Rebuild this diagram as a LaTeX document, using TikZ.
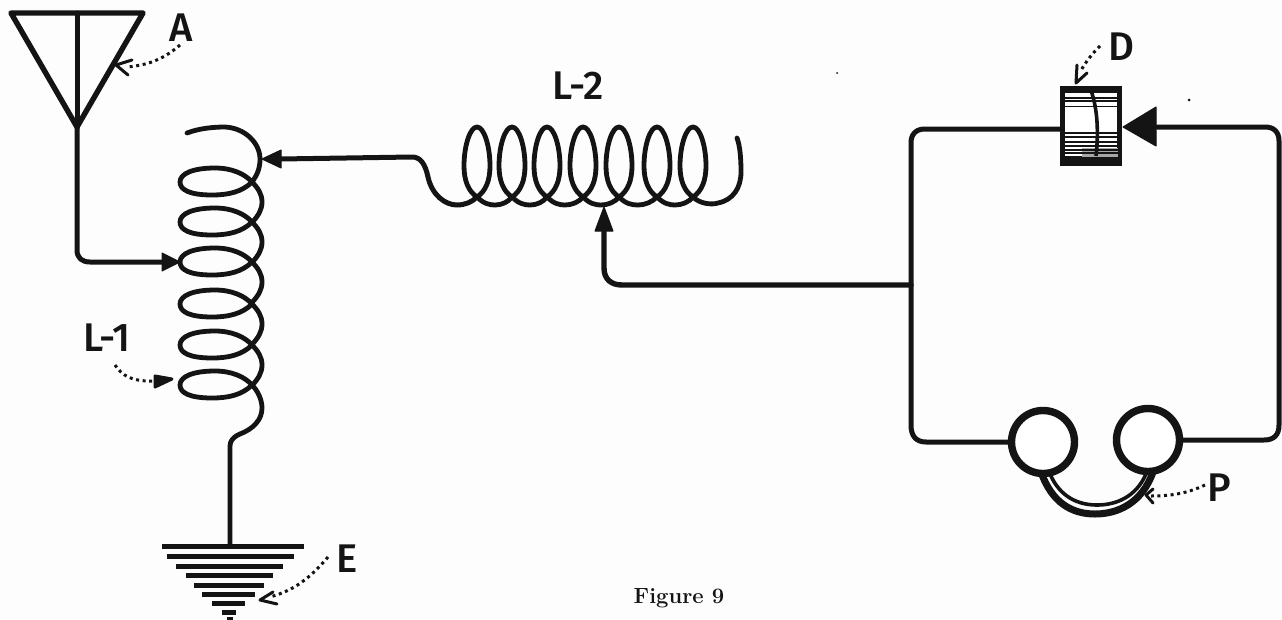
\documentclass[tikz,border=0pt]{standalone}
\usepackage{fontspec}
\newfontfamily\hand{Fira Sans}[UprightFont=* Medium]
\usetikzlibrary{arrows.meta,calc}
\definecolor{inkc}{HTML}{141414}
\definecolor{paper}{HTML}{FDFDFD}
\tikzset{
  wire/.style={line width=5pt,line cap=round,line join=round,draw=inkc},
  coilw/.style={line width=4.8pt,line cap=round,line join=round,draw=inkc},
  gnd/.style={line width=5pt,draw=inkc},
  ptr/.style={line width=3pt,draw=inkc,dash pattern=on 3pt off 3.6pt,line cap=butt},
  ptrhead/.style={line width=3pt,draw=inkc,line cap=round,line join=round},
  tip/.style={fill=inkc,draw=inkc,line width=1pt,line join=round},
  lab/.style={font=\hand\fontsize{40}{40}\selectfont,text=inkc,inner sep=0pt,anchor=center},
}
\newcommand{\lonecoil}[1]{
  (252,#1) .. controls (242,#1+10) and (228,#1+13) .. (212,#1+13)
  .. controls (190,#1+13) and (180,#1+8) .. (180,#1)
  .. controls (180,#1-8) and (192,#1-14) .. (215,#1-14)
  .. controls (232,#1-14) and (245,#1-8) .. (252,#1)
}
\newcommand{\ltwoloop}[1]{
  .. controls (#1+9,191) and (#1+13,180) .. (#1+13,166)
  .. controls (#1+13,146) and (#1+7,127) .. (#1,127)
  .. controls (#1-7,127) and (#1-13,146) .. (#1-13,166)
  .. controls (#1-13,180) and (#1-9,191) .. (#1,197)
}
\begin{document}
\begin{tikzpicture}[x=1pt,y=-1pt]
\useasboundingbox (0,0) rectangle (1282,619);
\fill[paper] (0,0) rectangle (1282,619);
% named points
\coordinate (antL) at (11,13);
\coordinate (antR) at (143,13);
\coordinate (antM) at (77,13);
\coordinate (apex) at (77,127);
\coordinate (tapA) at (164,262);
\coordinate (tapB) at (280,159);
\coordinate (tapC) at (604,232);
\coordinate (junc) at (911,285);
\coordinate (gndtop) at (230,546);
% antenna
\draw[wire,line width=5.4pt] (antL) -- (antR) -- (apex) -- cycle;
\draw[wire] (antM) -- (apex);
\draw[wire] (apex) -- (77,250) .. controls (77,258) and (82,262) .. (90,262) -- (tapA);
\fill[tip] (180,262) -- (162,253) -- (162,271) -- cycle;
% L-1 coil
\draw[coilw] (187,133) .. controls (200,128) and (215,127) .. (225,127)
  .. controls (245,128) and (260,143) .. (260,159) .. controls (260,167) and (258,174) .. (252,182);
\foreach \c in {182,222,262,304,345,385}{
  \draw[coilw] \lonecoil{\c};
}
\foreach \c in {182,222,262,304,345}{
  \draw[coilw] (252,\c) .. controls (258,\c+6) and (262,\c+12) .. (262,\c+20)
     .. controls (262,\c+28) and (258,\c+34) .. (252,\c+40.5);
}
\draw[coilw] (252,385) .. controls (258,391) and (262,400) .. (262,408)
  .. controls (262,420) and (253,429) .. (240,434) .. controls (233,437) and (230,441) .. (230,446) -- (gndtop);
% earth
\draw[gnd] (162,546) -- (304,546);
\draw[gnd] (167,556) -- (294,556);
\draw[gnd] (176,566) -- (283,566);
\draw[gnd] (186,575) -- (273,575);
\draw[gnd] (194,585) -- (264,585);
\draw[gnd] (202,594) -- (255,594);
\draw[gnd] (212,603) -- (245,603);
\draw[gnd] (222,612) -- (236,612);
\draw[gnd,line width=3pt] (227,618) -- (233,618);
% link L-1 to L-2
\draw[wire] (tapB) -- (412,157) .. controls (420,157) and (425,163) .. (428,177)
  .. controls (432,195) and (445,205) .. (457,205) .. controls (465,205) and (472,202) .. (477,197);
\fill[tip] (262,159) -- (281,150) -- (281,168) -- cycle;
% L-2 coil
\draw[coilw] (477,197) \ltwoloop{477}
  .. controls (484,204) and (490,205) .. (495,205) .. controls (502,205) and (508,202) .. (512,197) \ltwoloop{512}
  .. controls (519,204) and (525,205) .. (530,205) .. controls (537,205) and (543,202) .. (547,197) \ltwoloop{547}
  .. controls (554,204) and (560,205) .. (565,205) .. controls (572,205) and (579,202) .. (583,197) \ltwoloop{583}
  .. controls (590,204) and (596,205) .. (601,205) .. controls (608,205) and (615,202) .. (619,197) \ltwoloop{619}
  .. controls (626,204) and (632,205) .. (638,205) .. controls (645,205) and (652,202) .. (657,197) \ltwoloop{657}
  .. controls (664,204) and (670,205) .. (675,205) .. controls (682,205) and (689,202) .. (693,197) \ltwoloop{693}
  .. controls (700,204) and (712,205) .. (718,203) .. controls (733,200) and (741,188) .. (741,172)
  .. controls (741,158) and (740,146) .. (737,138);
% feed to L-2
\draw[wire,line width=5.4pt] (tapC) -- (604,268) .. controls (604,279) and (611,285) .. (622,285) -- (junc);
\fill[tip] (604,207) -- (595,231) -- (613,231) -- cycle;
% circuit
\draw[wire] (1060,129) -- (925,129) .. controls (916,129) and (911,134) .. (911,143)
  -- (911,425) .. controls (911,436) and (916,442) .. (926,442) -- (1008,442);
\draw[wire] (1157,127) -- (1265,127) .. controls (1274,127) and (1279,132) .. (1279,141)
  -- (1279,425) .. controls (1279,435) and (1274,440) .. (1264,440) -- (1183,440);
% detector
\node[draw=inkc,fill=white,line width=5pt,minimum width=57pt,minimum height=75pt,inner sep=0pt] (det) at (1090.5,125.5) {};
\fill[inkc] (1060,156) rectangle (1122,166);
\fill[gray!70] (1082,148) rectangle (1118,157);
\foreach \y/\w in {91/3,98/1.6,101/1.6,106/1,133/1.8,137/1.6,142/1.8,146/1.8,150/1.8,153/1.8}{
  \draw[inkc,line width=\w pt] (1062,\y) -- (1119,\y);
}
\fill[white] (1065,93) rectangle (1117,96);
\draw[inkc,line width=3.6pt] (1090,88) .. controls (1097,105) and (1099,130) .. (1096,156);
\fill[tip] (1123,127) -- (1156,107) -- (1156,146) -- cycle;
% phones
\draw[inkc,line width=7pt] (1041,472) .. controls (1052,503) and (1072,514) .. (1095,514) .. controls (1118,514) and (1142,503) .. (1153,472);
\draw[inkc,line width=3.6pt] (1050,474) .. controls (1060,497) and (1078,505) .. (1097,505) .. controls (1116,505) and (1136,497) .. (1146,474);
\node[circle,draw=inkc,fill=white,line width=7.4pt,minimum size=63pt,inner sep=0pt] (ph1) at (1043,442) {};
\node[circle,draw=inkc,fill=white,line width=7.4pt,minimum size=63pt,inner sep=0pt] (ph2) at (1148,440) {};
% labels
\node[lab] (lA) at (181,28) {A};
\node[lab] (lL2) at (578,86) {L-2};
\node[lab] (lD) at (1121,47) {D};
\node[lab] (lL1) at (107,338) {L-1};
\node[lab] (lE) at (347,559) {E};
\node[lab] (lP) at (1219,488) {P};
\node[inner sep=0pt,text=inkc,font=\bfseries\fontsize{22}{22}\selectfont] (cap) at (679,598) {Figure 9};
% pointers
\draw[ptr] (180,45) .. controls (165,58) and (150,65) .. (127,67);
\draw[ptrhead] (132,60) -- (116,65) -- (128,75);
\draw[ptr] (115,365) .. controls (122,375) and (130,382) .. (157,381);
\draw[ptrhead,fill=inkc] (155,376) -- (172,379) -- (155,387) -- cycle;
\draw[ptr] (328,557) .. controls (310,578) and (295,590) .. (270,597);
\draw[ptrhead] (273,592) -- (260,600) -- (277,604);
\draw[ptr] (1100,46) .. controls (1092,54) and (1087,60) .. (1080,72);
\draw[ptrhead] (1077,65) -- (1076,83) -- (1087,73);
\draw[ptr] (1205,485) .. controls (1190,492) and (1175,496) .. (1151,496);
\draw[ptrhead] (1153,489) -- (1146,495) -- (1153,503);
% specks
\fill[inkc] (1189,100) circle (1.5pt);
\fill[inkc] (837,73) circle (1pt);
\end{tikzpicture}
\end{document}
